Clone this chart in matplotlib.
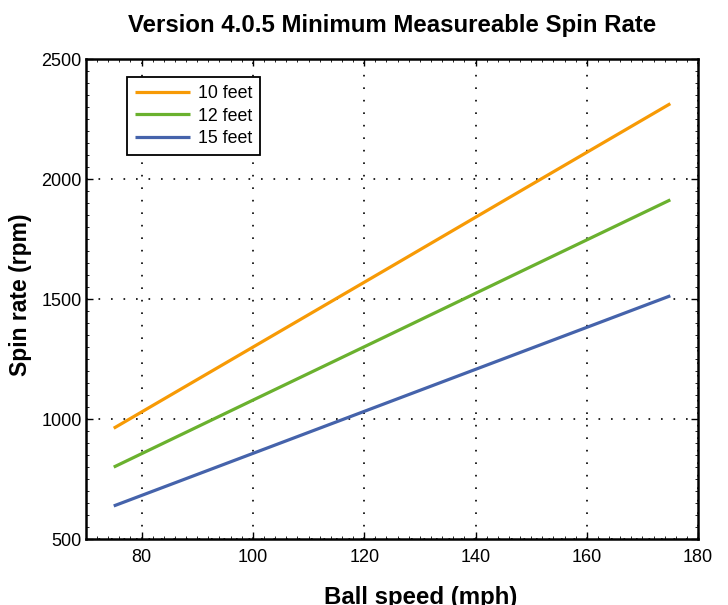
import matplotlib
matplotlib.use("Agg")
import matplotlib.pyplot as plt
from matplotlib.ticker import MultipleLocator

plt.rcParams['font.family'] = ['Liberation Sans', 'DejaVu Sans']

ball_speed = [75, 100, 125, 150, 175]
spin_10ft = [962, 1300, 1638, 1977, 2315]
spin_12ft = [800, 1079, 1357, 1636, 1914]
spin_15ft = [638, 857, 1076, 1295, 1514]
labels = ["10 feet", "12 feet", "15 feet"]
colors = ["#F79A05", "#6AB12E", "#4563AB"]

fig = plt.figure(figsize=(7.28, 6.05), dpi=100)
ax = fig.add_axes([0.118, 0.109, 0.841, 0.793])

for ys, lab, c in zip([spin_10ft, spin_12ft, spin_15ft], labels, colors):
    ax.plot(ball_speed, ys, color=c, lw=2.3, label=lab, solid_capstyle='butt')

ax.set_xlim(70, 180)
ax.set_ylim(500, 2500)
ax.xaxis.set_major_locator(MultipleLocator(20))
ax.yaxis.set_major_locator(MultipleLocator(500))
ax.xaxis.set_minor_locator(MultipleLocator(2))
ax.yaxis.set_minor_locator(MultipleLocator(50))
ax.tick_params(which='both', direction='in', top=True, right=True, labelsize=13)
ax.tick_params(which='major', length=5, width=1)
ax.tick_params(which='minor', length=2, width=0.6)
ax.tick_params(axis='x', pad=7)
ax.tick_params(axis='y', pad=3)
for s in ax.spines.values():
    s.set_linewidth(1.8)
ax.grid(True, which='major', color='black', linestyle=(0, (1, 6.5)), linewidth=1.2)

ax.set_title("Version 4.0.5 Minimum Measureable Spin Rate", fontsize=17.3,
             fontweight='bold', pad=20)
ax.set_xlabel("Ball speed (mph)", fontsize=17.3, fontweight='bold', labelpad=15)
ax.xaxis.set_label_coords(0.546, -0.097)
ax.xaxis.label.set_va('top')
ax.set_ylabel("Spin rate (rpm)", fontsize=16.5, fontweight='bold')
ax.yaxis.set_label_coords(-0.088, 0.51)

leg = ax.legend(loc='upper left', bbox_to_anchor=(0.067, 0.9625), borderaxespad=0,
                fancybox=False, framealpha=1, edgecolor='black', fontsize=12.8,
                handlelength=3.1, handletextpad=0.45, labelspacing=0.3,
                borderpad=0.45)
leg.get_frame().set_linewidth(1.3)

fig.savefig("out.png", dpi=100)
